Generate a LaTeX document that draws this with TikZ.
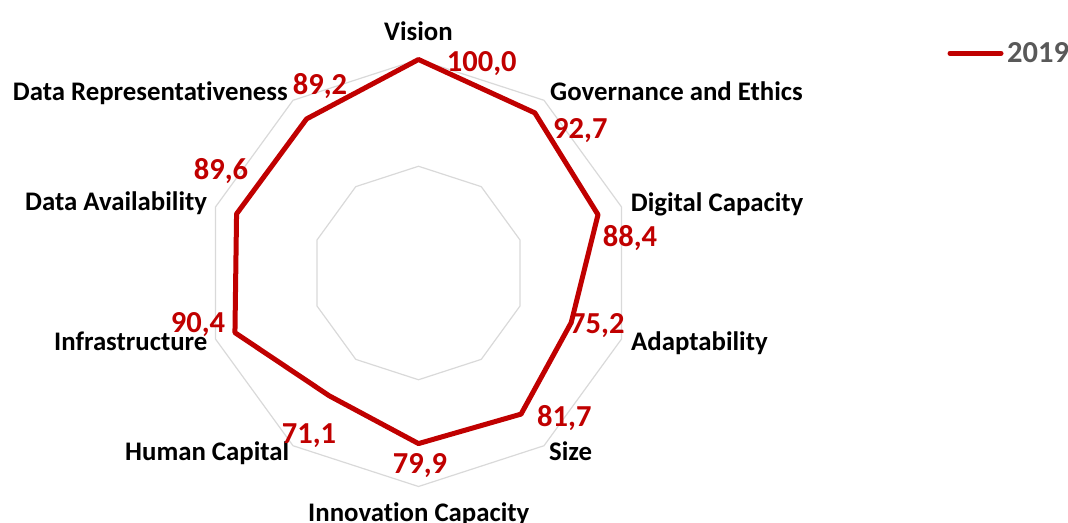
\documentclass[tikz,border=0pt]{standalone}
\usepackage{fontspec}
\setmainfont{Carlito}[Ligatures=NoCommon]
\definecolor{chartred}{HTML}{C00000}
\definecolor{gridgray}{HTML}{D9D9D9}
\definecolor{legendgray}{HTML}{595959}
\tikzset{
  gridline/.style={draw=gridgray, line width=1.2pt, line join=round},
  seriesline/.style={draw=chartred, line width=5pt, line join=round},
  catlabel/.style={anchor=base west, inner sep=0pt, font=\bfseries\fontsize{26.8}{31}\selectfont, text=black},
  vallabel/.style={anchor=base west, inner sep=0pt, font=\bfseries\fontsize{30.5}{34}\selectfont, text=chartred},
}
\begin{document}
\begin{tikzpicture}[x=1pt,y=1pt]
\useasboundingbox (0,0) rectangle (1068,-522);
% grid
\begin{scope}[shift={(418.5pt,-273pt)}]
  \foreach \k in {0,...,9} {
    \coordinate (g1-\k) at ({90-36*\k}:106.75pt);
    \coordinate (g2-\k) at ({90-36*\k}:213.5pt);
  }
  \draw[gridline] (g1-0) -- (g1-1) -- (g1-2) -- (g1-3) -- (g1-4) -- (g1-5) -- (g1-6) -- (g1-7) -- (g1-8) -- (g1-9) -- cycle;
  \draw[gridline] (g2-0) -- (g2-1) -- (g2-2) -- (g2-3) -- (g2-4) -- (g2-5) -- (g2-6) -- (g2-7) -- (g2-8) -- (g2-9) -- cycle;
  \foreach \v [count=\i from 0] in {100,92.7,88.4,75.2,81.7,79.9,71.1,90.4,89.6,89.2} {
    \coordinate (p\i) at ({90-36*\i}:{\v*2.135pt});
  }
  \draw[seriesline] (p0) -- (p1) -- (p2) -- (p3) -- (p4) -- (p5) -- (p6) -- (p7) -- (p8) -- (p9) -- cycle;
\end{scope}
% category labels
\node[catlabel] (lvision) at (384,-40.7) {Vision};
\node[catlabel] (lgov) at (550,-100.7) {Governance and Ethics};
\node[catlabel] (ldig) at (630.7,-211.7) {Digital Capacity};
\node[catlabel] (ladapt) at (631,-350) {Adaptability};
\node[catlabel] (lsize) at (549,-460) {Size};
\node[catlabel] (linnov) at (308,-521) {Innovation Capacity};
\node[catlabel] (lhuman) at (125,-460) {Human Capital};
\node[catlabel] (linfra) at (54,-350) {Infrastructure};
\node[catlabel] (ldavail) at (25,-210.7) {Data Availability};
\node[catlabel] (ldrep) at (12.7,-100.7) {Data Representativeness};
% value labels
\node[vallabel] (v0) at (446.7,-71.7) {100,0};
\node[vallabel] (v1) at (553,-138) {92,7};
\node[vallabel] (v2) at (602.7,-246) {88,4};
\node[vallabel] (v3) at (570,-333) {75,2};
\node[vallabel] (v4) at (537,-426) {81,7};
\node[vallabel] (v5) at (392.7,-473.3) {79,9};
\node[vallabel] (v6) at (281.7,-443) {71,1};
\node[vallabel] (v7) at (170.7,-332) {90,4};
\node[vallabel] (v8) at (193.7,-179) {89,6};
\node[vallabel] (v9) at (292.7,-94) {89,2};
% legend
\coordinate (legA) at (950,-53.3);
\coordinate (legB) at (1001,-53.3);
\draw[draw=chartred, line width=5pt, line cap=round] (legA) -- (legB);
\node[anchor=base west, inner sep=0pt, font=\bfseries\fontsize{30.5}{34}\selectfont, text=legendgray] (legtext) at (1007,-62.3) {2019};
\end{tikzpicture}
\end{document}
